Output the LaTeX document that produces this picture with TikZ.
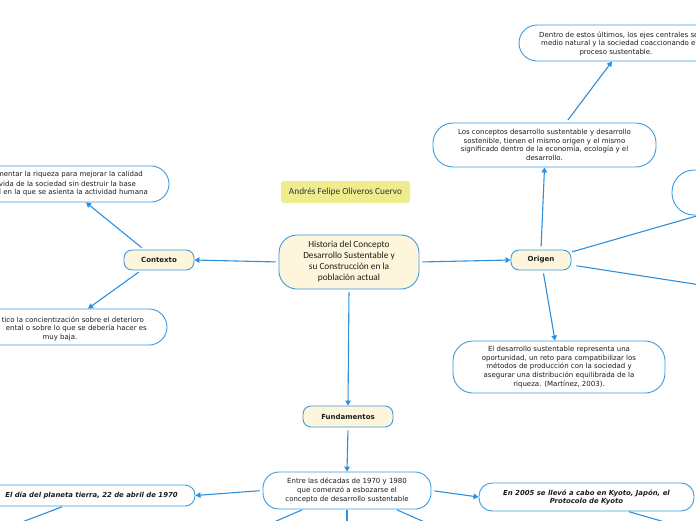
\documentclass[tikz,border=0pt]{standalone}
\usepackage{fontspec}
\setmainfont{DejaVu Sans}
\newfontfamily\carl{Carlito}
\usetikzlibrary{arrows.meta,calc}
\definecolor{bl}{HTML}{3A9BE0}
\definecolor{ln}{HTML}{2E90DC}
\definecolor{cream}{HTML}{FEF6DC}
\definecolor{auth}{HTML}{EFEC8E}
\definecolor{ink}{HTML}{1C1C1C}
\begin{document}
\begin{tikzpicture}[x=1pt,y=-1pt,
 box/.style={draw=bl, line width=0.9pt, fill=white, inner sep=0pt, align=center, text=ink,
   font=\fontsize{7}{8.6}\selectfont},
 topic/.style={box, fill=cream, rounded corners=8pt, font=\bfseries\fontsize{7}{8.6}\selectfont},
 conn/.style={draw=ln, line width=1.1pt, shorten <=3pt, -{Triangle[length=5pt,width=5.5pt]}},
 txt/.style={inner sep=0pt, text=ink, font=\fontsize{7}{8.6}\selectfont}
]
\useasboundingbox (0,0) rectangle (696,520);
\fill[white] (0,0) rectangle (696,520);
\begin{scope}
\clip (0,0) rectangle (696,520);

% central and author
\node[box, fill=cream, rounded corners=18pt, minimum width=140pt, minimum height=54pt,
  font=\carl\fontsize{9.3}{11}\selectfont] (main) at (349,262)
  {Historia del Concepto\\Desarrollo Sustentable y\\su Construcción en la\\población actual};
\node[fill=auth, rounded corners=3pt, inner sep=0pt, minimum width=129pt, minimum height=22pt,
  text=ink!90, font=\carl\fontsize{9.3}{11}\selectfont] (author) at (345.5,192)
  {Andrés Felipe Oliveros Cuervo};

% topics
\node[topic, minimum width=70pt, minimum height=20pt] (ctx) at (159,260) {Contexto};
\node[topic, minimum width=60pt, minimum height=20pt] (origen) at (541,260) {Origen};
\node[topic, minimum width=90pt, minimum height=21pt] (fund) at (348,416.5) {Fundamentos};

% Contexto children
\node[box, rounded corners=18pt, minimum width=228pt, minimum height=36pt] (ctxa) at (55,184) {};
\node[txt, anchor=east] (ctxa1) at (143,175) {mentar la riqueza para mejorar la calidad};
\node[txt, anchor=east] (ctxa2) at (136,184) {vida de la sociedad sin destruir la base};
\node[txt, anchor=east] (ctxa3) at (148,193) {l en la que se asienta la actividad humana};

\node[box, rounded corners=18pt, minimum width=214pt, minimum height=36pt] (ctxb) at (60,327) {};
\node[txt, anchor=east] (ctxb1) at (144,319.3) {tico la concientización sobre el deterioro};
\node[txt, anchor=east] (ctxb2) at (147,328.3) {ental o sobre lo que se debería hacer es};
\node[txt] (ctxb3) at (60,337.3) {muy baja.};

% Origen children
\node[box, rounded corners=20pt, minimum width=223pt, minimum height=44pt] (otop) at (544.5,145)
  {Los conceptos desarrollo sustentable y desarrollo\\sostenible, tienen el mismo origen y el mismo\\significado dentro de la economía, ecología y el\\desarrollo.};
\node[box, rounded corners=18pt, minimum width=260pt, minimum height=36pt] (tr) at (649,43) {};
\node[txt, anchor=west] (tr1) at (539,35) {Dentro de estos últimos, los ejes centrales se};
\node[txt, anchor=west] (tr2) at (541,44) {medio natural y la sociedad coaccionando en};
\node[txt] (tr3) at (616,52.7) {proceso sustentable.};
\node[box, rounded corners=22pt, minimum width=108pt, minimum height=45pt] (circ) at (726,192.5) {};
\coordinate (r2) at (720,288);
\node[box, rounded corners=20pt, minimum width=212pt, minimum height=52pt] (obot) at (559,367)
  {El desarrollo sustentable representa una\\oportunidad, un reto para compatibilizar los\\métodos de producción con la sociedad y\\asegurar una distribución equilibrada de la\\riqueza. (Martínez, 2003).};

% Fundamentos children
\node[box, rounded corners=16pt, minimum width=168pt, minimum height=37pt] (fchild) at (347,490.5)
  {Entre las décadas de 1970 y 1980\\que comenzó a esbozarse el\\concepto de desarrollo sustentable};
\node[box, rounded corners=10pt, minimum width=207pt, minimum height=21pt,
  font=\bfseries\itshape\fontsize{6.9}{8.4}\selectfont] (left) at (91.5,495.5)
  {El día del planeta tierra, 22 de abril de 1970};
\node[box, rounded corners=13pt, minimum width=215pt, minimum height=28pt,
  font=\bfseries\itshape\fontsize{6.9}{8}\selectfont] (kyoto) at (586.5,497)
  {En 2005 se llevó a cabo en Kyoto, Japón, el\\Protocolo de Kyoto};
\coordinate (fa) at (255.5,530);
\coordinate (fb) at (347,530);
\coordinate (fc) at (442.7,530);
\coordinate (la) at (1,530);
\coordinate (ka) at (692.6,530);

% connectors
\draw[conn] (main.west) -- (ctx.east);
\draw[conn] (main.east) -- (origen.west);
\draw[conn] (main.south) -- (fund.north);
\draw[conn] ([xshift=-15pt]ctx.north) -- ([xshift=31pt]ctxa.south);
\draw[conn] ([xshift=-18pt]ctx.south) -- ([xshift=28pt]ctxb.north);
\draw[conn] (origen.north) -- (otop.south);
\draw[conn] ([xshift=21.5pt]otop.north) -- ([xshift=-37pt]tr.south);
\draw[conn] ([xshift=2pt]origen.south) -- ([xshift=-4pt]obot.north);
\draw[conn, shorten <=0.5pt] ([yshift=8pt]origen.east) -- ([yshift=-15pt]circ.center);
\draw[conn, shorten <=5pt] ([yshift=-5pt]origen.east) -- (r2);
\draw[conn] (fund.south) -- (fchild.north);
\draw[conn] (fchild.west) -- (left.east);
\draw[conn] (fchild.east) -- (kyoto.west);
\draw[conn, shorten <=1pt] ([xshift=-44pt]fchild.south) -- (fa);
\draw[conn, shorten <=1pt] (fchild.south) -- (fb);
\draw[conn, shorten <=1pt] ([xshift=49pt]fchild.south) -- (fc);
\draw[conn, shorten <=1pt] ([xshift=-28.5pt]left.south) -- (la);
\draw[conn, shorten <=1pt] ([xshift=41.5pt]kyoto.south) -- (ka);
\end{scope}
\end{tikzpicture}
\end{document}
